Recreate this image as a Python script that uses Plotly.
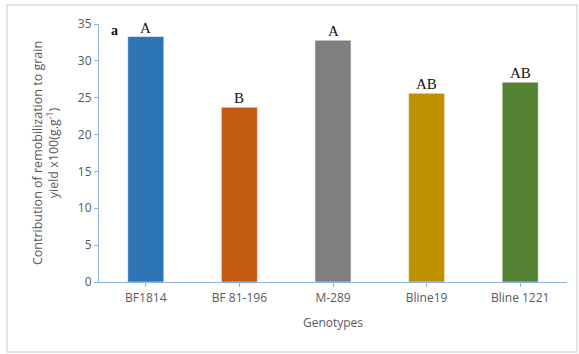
import plotly.graph_objects as go

genotypes = ["BF1814", "BF 81-196", "M-289", "Bline19", "Bline 1221"]
contribution = [33.3, 23.7, 32.8, 25.6, 27.1]
group_letters = ["A", "B", "A", "AB", "AB"]
bar_colors = ["#2E75B6", "#C55A11", "#7F7F7F", "#BF9000", "#548235"]
y_ticks = [0, 5, 10, 15, 20, 25, 30, 35]

axis_font = dict(family="Open Sans, Liberation Sans, sans-serif", size=12, color="#595959")
title_font = dict(family="Open Sans, Liberation Sans, sans-serif", size=12.5, color="#595959")
serif = "Liberation Serif, Times New Roman, serif"

fig = go.Figure(
    go.Bar(
        x=genotypes,
        y=contribution,
        marker=dict(color=bar_colors, line=dict(color="white", width=0.5)),
        hoverinfo="x+y",
    )
)

# significance letters above each bar
for g, v, lab in zip(genotypes, contribution, group_letters):
    fig.add_annotation(
        x=g, y=v, text=lab, showarrow=False, yanchor="bottom", yshift=-1,
        font=dict(family=serif, size=15, color="#111111"),
    )

# panel label
fig.add_annotation(
    xref="paper", yref="paper", x=0.022, y=1.01, text="<b>a</b>", showarrow=False,
    font=dict(family=serif, size=14, color="#111111"),
)

# chart area frame
fig.add_shape(
    type="rect", xref="paper", yref="paper",
    x0=-0.1966, x1=1.0214, y0=-0.2713, y1=1.0736,
    line=dict(color="#D9D9D9", width=1.5), fillcolor="rgba(0,0,0,0)", layer="below",
)

fig.update_layout(
    width=579, height=354,
    margin=dict(l=99, r=12, t=24, b=72),
    plot_bgcolor="white", paper_bgcolor="white",
    bargap=0.615,
    showlegend=False,
    xaxis=dict(
        showline=True, linecolor="#8FB4E0", linewidth=1.2,
        ticks="outside", ticklen=4, tickcolor="#8FB4E0",
        tickfont=axis_font,
        title=dict(text="Genotypes", font=axis_font, standoff=14),
        showgrid=False,
    ),
    yaxis=dict(
        range=[0, 35], tickvals=y_ticks,
        showline=True, linecolor="#8FB4E0", linewidth=1.2,
        ticks="outside", ticklen=4, tickcolor="#8FB4E0",
        tickfont=axis_font, showgrid=False, zeroline=False,
        title=dict(
            text="Contribution of remobilization to grain<br>yield x100(g.g<sup>-1</sup>)",
            font=title_font, standoff=16,
        ),
    ),
)

fig.write_html("out.html")
